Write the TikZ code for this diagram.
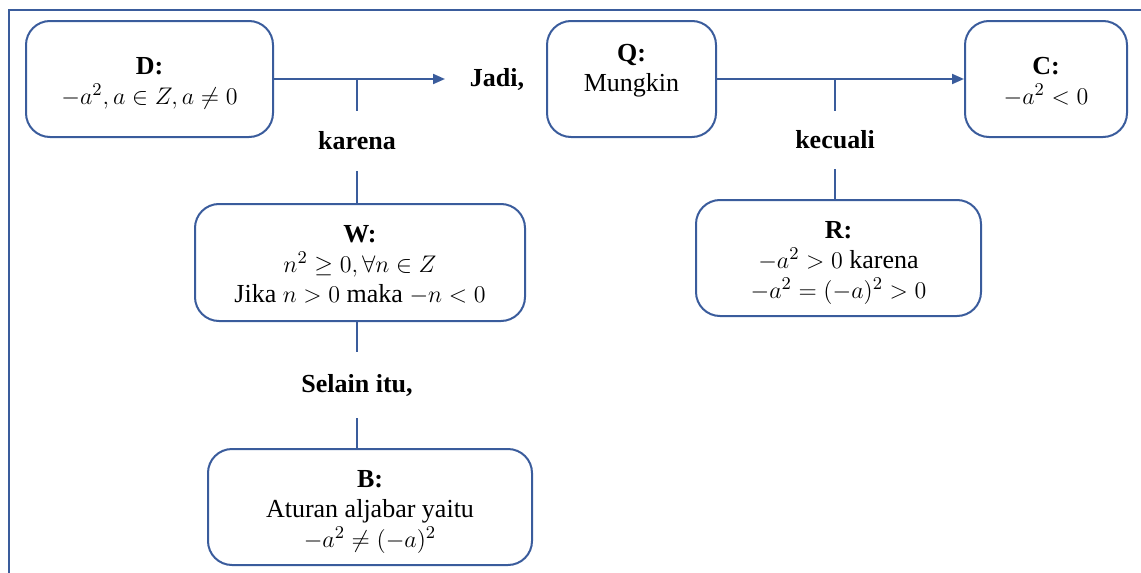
\documentclass[tikz,border=0pt]{standalone}
\usepackage{fontspec}
\setmainfont{Liberation Serif}
\usetikzlibrary{arrows.meta}
\definecolor{lineblue}{HTML}{3A5C9C}
\newcommand\boxtext[2][-2pt]{\raisebox{#1}[\height][\depth]{\begin{tabular}{@{}c@{}}#2\end{tabular}}}
\begin{document}
\begin{tikzpicture}[x=0.5pt,y=-0.5pt,
  box/.style={draw=lineblue, line width=1pt, rounded corners=12pt, align=center,
    font=\fontsize{13}{15}\selectfont, inner sep=0pt, minimum height=58pt},
  lbl/.style={font=\fontsize{13}{15}\selectfont\bfseries, inner sep=0pt},
  conn/.style={draw=lineblue, line width=1pt},
  arr/.style={conn, -{Triangle[length=6pt,width=5pt]}}]
\useasboundingbox (0,0) rectangle (1141,573);
\draw[lineblue, line width=0.6pt] (9,573) -- (9,10) -- (1141,10);
% boxes
\node[box, minimum width=123.5pt] (D) at (149.5,79) {\boxtext{\textbf{D:}\\$-a^2, a\in Z, a\neq 0$}};
\node[box, minimum width=84.5pt] (Q) at (631.5,79) {\boxtext[4.5pt]{\textbf{Q:}\\Mungkin}};
\node[box, minimum width=81pt] (C) at (1046,79) {\boxtext{\textbf{C:}\\$-a^2<0$}};
\node[box, minimum width=165pt, minimum height=58.5pt] (W) at (360,262.5) {\boxtext{\textbf{W:}\\$n^2\geq 0, \forall n\in Z$\\Jika $n>0$ maka $-n<0$}};
\node[box, minimum width=162pt] (B) at (370,507) {\boxtext{\textbf{B:}\\Aturan aljabar yaitu\\$-a^2\neq(-a)^2$}};
\node[box, minimum width=142.5pt] (R) at (838.5,258) {\boxtext{\textbf{R:}\\$-a^2>0$ karena\\$-a^2=(-a)^2>0$}};
% labels
\node[lbl] (jadi) at (497,79) {Jadi,};
\node[lbl, minimum height=30pt] (karena) at (357,141) {karena};
\node[lbl, minimum height=29pt] (kecuali) at (835,140) {kecuali};
\node[lbl, minimum height=33pt] (selain) at (357,385) {Selain itu,};
\coordinate (jt) at (445,79);
% connectors
\draw[arr] (D.east) -- (jt);
\draw[arr] (Q.east) -- (C.west);
\draw[conn] (karena.north) -- (karena.north |- D.east);
\draw[conn] (karena.south) -- (karena.south |- W.north);
\draw[conn] (kecuali.north) -- (kecuali.north |- Q.east);
\draw[conn] (kecuali.south) -- (kecuali.south |- R.north);
\draw[conn] (W.south -| selain.north) -- (selain.north);
\draw[conn] (selain.south) -- (selain.south |- B.north);
\end{tikzpicture}
\end{document}
